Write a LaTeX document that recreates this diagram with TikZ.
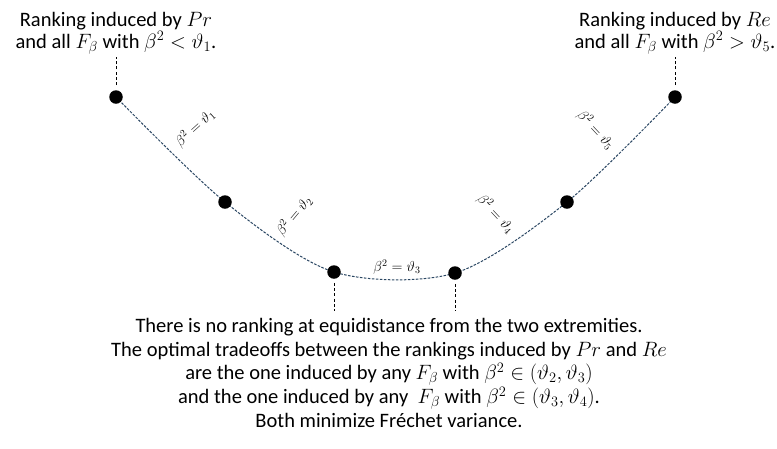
\documentclass[tikz,border=0pt]{standalone}
\usepackage{fontspec}
\setmainfont{Carlito}
\definecolor{curveblue}{RGB}{42,70,98}
\begin{document}
\begin{tikzpicture}[x=1pt,y=-1pt,
  dot/.style={circle,fill=black,inner sep=0pt,minimum size=13.5pt},
  curvestyle/.style={draw=curveblue,line width=1pt,dash pattern=on 2.6pt off 1.4pt},
  vdash/.style={draw=black,line width=1pt,dash pattern=on 3pt off 2.2pt},
  lbl/.style={font=\fontsize{14.5}{16}\selectfont,inner sep=0pt},
  txt/.style={font=\fontsize{20.5}{22}\selectfont,align=center,inner sep=0pt}]
\useasboundingbox (0,0) rectangle (777,448);
% points on the curve
\coordinate (p1) at (116,97);
\coordinate (p2) at (225,202);
\coordinate (p3) at (334,272);
\coordinate (p4) at (455,273);
\coordinate (p5) at (567,202);
\coordinate (p6) at (675,97);
\draw[curvestyle] plot[smooth,tension=0.5] coordinates {(p1) (p2) (p3) (p4) (p5) (p6)};
\foreach \i in {1,...,6} {\node[dot] (d\i) at (p\i) {};}
% curve labels
\node[lbl,rotate=42] (l1) at (195,128) {$\beta^2=\vartheta_1$};
\node[lbl,rotate=50] (l2) at (294,216) {$\beta^2=\vartheta_2$};
\node[lbl] (l3) at (397,267) {$\beta^2=\vartheta_3$};
\node[lbl,rotate=-47] (l4) at (496,214) {$\beta^2=\vartheta_4$};
\node[lbl,rotate=-47] (l5) at (596,130) {$\beta^2=\vartheta_5$};
% texts
\node[txt,anchor=north] (lt) at (116,12) {Ranking induced by $Pr$\\ and all $F_\beta$ with $\beta^2<\vartheta_1$.};
\node[txt,anchor=north] (rt) at (675,12) {Ranking induced by $Re$\\ and all $F_\beta$ with $\beta^2>\vartheta_5$.};
\node[txt,anchor=north,font=\fontsize{20.5}{23.7}\selectfont] (bt) at (389,318) {There is no ranking at equidistance from the two extremities.\\
The optimal tradeoffs between the rankings induced by $Pr$ and $Re$\\
are the one induced by any $F_\beta$ with $\beta^2\in(\vartheta_2,\vartheta_3)$\\
and the one induced by any \ $F_\beta$ with $\beta^2\in(\vartheta_3,\vartheta_4)$.\\
Both minimize Fréchet variance.};
% dashed connectors
\coordinate (t1) at (116,57);
\coordinate (t6) at (675,57);
\coordinate (b3) at (334,311);
\coordinate (b4) at (455,311);
\draw[vdash,shorten <=5pt] (d1) -- (t1);
\draw[vdash,shorten <=5pt] (d6) -- (t6);
\draw[vdash,shorten <=4pt] (d3) -- (b3);
\draw[vdash,shorten <=4pt] (d4) -- (b4);
\end{tikzpicture}
\end{document}
